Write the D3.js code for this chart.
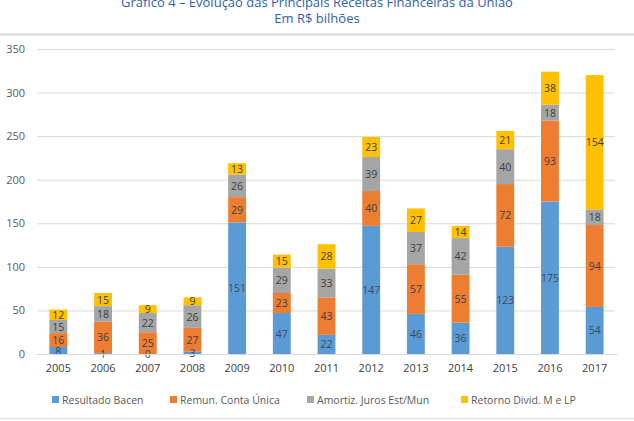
<!DOCTYPE html>
<html><head><meta charset="utf-8">
<script src="https://cdn.jsdelivr.net/npm/d3@7"></script>
<style>body{margin:0;background:#fff}svg{display:block}</style>
</head><body>
<svg id="c" width="634" height="421"></svg>
<script>
const years = ["2005","2006","2007","2008","2009","2010","2011","2012","2013","2014","2015","2016","2017"];
const seriesNames = ["Resultado Bacen","Remun. Conta Única","Amortiz. Juros Est/Mun","Retorno Divid. M e LP"];
const bacen = [8,1,0,3,151,47,22,147,46,36,123,175,54];
const contaUnica = [16,36,25,27,29,23,43,40,57,55,72,93,94];
const amortiz = [15,18,22,26,26,29,33,39,37,42,40,18,18];
const retorno = [12,15,9,9,13,15,28,23,27,14,21,38,154];
const yTicks = [0,50,100,150,200,250,300,350];
const colors = ["#5B9BD5","#ED7D31","#A5A5A5","#FFC000"];
const titleLines = ["Gráfico 4 – Evolução das Principais Receitas Financeiras da União","Em R$ bilhões"];

const svg = d3.select("#c");
const font = "'Open Sans', sans-serif";

// title
svg.append("text").attr("x",317).attr("y",7).attr("text-anchor","middle")
  .attr("font-family",font).attr("font-size",13).attr("fill","#2E62A8").text(titleLines[0]);
svg.append("text").attr("x",317).attr("y",23).attr("text-anchor","middle")
  .attr("font-family",font).attr("font-size",13).attr("fill","#2E62A8").text(titleLines[1]);
svg.append("line").attr("x1",0).attr("x2",634).attr("y1",34.5).attr("y2",34.5).attr("stroke","#d9d9d9").attr("stroke-width",2);
svg.append("line").attr("x1",0).attr("x2",634).attr("y1",418.5).attr("y2",418.5).attr("stroke","#e6e6e6").attr("stroke-width",1.5);

const x = d3.scaleBand().domain(years).range([36,617]).paddingInner(0.6).paddingOuter(0.3);
const y = d3.scaleLinear().domain([0,350]).range([354,49]);

// grid
const ga = svg.append("g").attr("transform","translate(37,0)")
  .call(d3.axisLeft(y).tickValues(yTicks).tickSize(-578).tickPadding(12));
ga.select(".domain").remove();
ga.selectAll(".tick line").attr("stroke","#d9d9d9");
ga.selectAll(".tick text").attr("font-family",font).attr("font-size",11).attr("fill","#595959");

const rows = years.map((yr,i)=>({year:yr, s0:bacen[i], s1:contaUnica[i], s2:amortiz[i], s3:retorno[i]}));
const stack = d3.stack().keys(["s0","s1","s2","s3"])(rows);

const g = svg.append("g");
stack.forEach((layer,k)=>{
  g.selectAll(null).data(layer).enter().append("rect")
    .attr("x",d=>x(d.data.year)).attr("width",x.bandwidth())
    .attr("y",d=>y(d[1])).attr("height",d=>y(d[0])-y(d[1]))
    .attr("fill",colors[k]);
});
stack.forEach((layer,k)=>{
  g.selectAll(null).data(layer).enter().append("text")
    .attr("x",d=>x(d.data.year)+x.bandwidth()/2)
    .attr("y",d=>y((d[0]+d[1])/2)+4)
    .attr("text-anchor","middle").attr("font-family",font).attr("font-size",10.5)
    .attr("fill",k===0?"#3A4A60":"#404040")
    .text(d=>d.data["s"+k]);
});

// x axis
const xa = svg.append("g").attr("transform","translate(0,354)").call(d3.axisBottom(x).tickSize(0).tickPadding(10));
xa.select(".domain").attr("stroke","#d9d9d9");
xa.selectAll(".tick text").attr("font-family",font).attr("font-size",11).attr("fill","#404040");

// legend
const legX = [52,170,307,461];
seriesNames.forEach((n,k)=>{
  svg.append("rect").attr("x",legX[k]).attr("y",396).attr("width",7).attr("height",7).attr("fill",colors[k]);
  svg.append("text").attr("x",legX[k]+10).attr("y",403.5).attr("font-family",font).attr("font-size",10.5)
    .attr("fill","#595959").text(n);
});
</script>
</body></html>
